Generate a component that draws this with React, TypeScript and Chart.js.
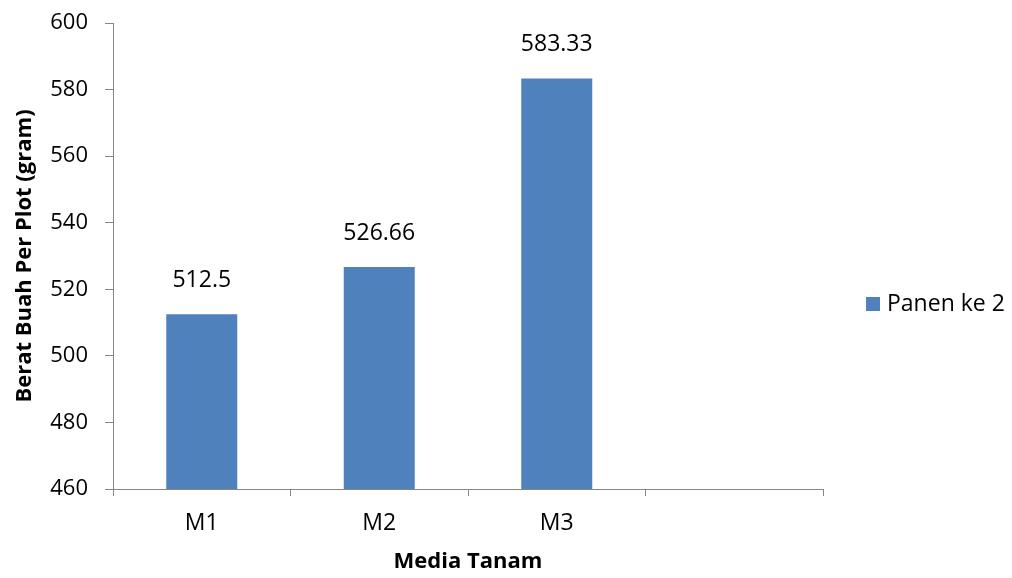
import React, { useEffect, useRef } from "react";
import { Chart, registerables } from "chart.js";

Chart.register(...registerables);

const categories = ["M1", "M2", "M3", ""];
const seriesName = "Panen ke 2";
const seriesValues = [512.5, 526.66, 583.33, null];
const valueLabels = ["512.5", "526.66", "583.33", ""];
const yMin = 460;
const yMax = 600;
const yStep = 20;
const xTitle = "Media Tanam";
const yTitle = "Berat Buah Per Plot (gram)";

const BAR = "#4F81BD";
const AXIS = "#868686";
const FONT = "'Open Sans', 'DejaVu Sans', sans-serif";

const labelsPlugin = {
  id: "valueLabels",
  afterDatasetsDraw(chart: any) {
    const ctx = chart.ctx;
    const meta = chart.getDatasetMeta(0);
    ctx.save();
    ctx.font = `23px ${FONT}`;
    ctx.fillStyle = "#000";
    ctx.textAlign = "center";
    ctx.textBaseline = "middle";
    meta.data.forEach((bar: any, i: number) => {
      const txt = valueLabels[i];
      if (!txt) return;
      ctx.fillText(txt, bar.x, bar.y - 34);
    });
    ctx.restore();
  },
};

const legendPlugin = {
  id: "customLegend",
  afterDraw(chart: any) {
    const ctx = chart.ctx;
    const x = 866;
    const y = 304;
    ctx.save();
    ctx.fillStyle = BAR;
    ctx.fillRect(x, y - 7, 14, 14);
    ctx.font = `23px ${FONT}`;
    ctx.fillStyle = "#000";
    ctx.textAlign = "left";
    ctx.textBaseline = "middle";
    ctx.fillText(seriesName, x + 21, y);
    ctx.restore();
  },
};

export default function App() {
  const ref = useRef<HTMLCanvasElement>(null);
  useEffect(() => {
    if (!ref.current) return;
    const chart = new Chart(ref.current, {
      type: "bar",
      data: {
        labels: categories,
        datasets: [
          {
            label: seriesName,
            data: seriesValues as any,
            backgroundColor: BAR,
            borderWidth: 0,
            categoryPercentage: 1,
            barPercentage: 0.4,
          },
        ],
      },
      options: {
        responsive: false,
        animation: false,
        layout: { padding: { top: 23, right: 189, left: 0, bottom: 0 } },
        plugins: { legend: { display: false }, tooltip: { enabled: false } },
        scales: {
          x: {
            grid: {
              display: true,
              offset: true,
              drawOnChartArea: false,
              drawTicks: true,
              tickLength: 7,
              color: AXIS,
            },
            border: { display: true, color: AXIS, width: 1 },
            ticks: { color: "#000", font: { family: FONT, size: 23 }, padding: 14 },
            title: {
              display: true,
              text: xTitle,
              color: "#000",
              font: { family: FONT, size: 22, weight: "bold" },
              padding: { top: 0, bottom: 3 },
            },
            afterFit(scale: any) {
              scale.height = 89;
              scale.paddingLeft = 0;
              scale.paddingRight = 0;
            },
          },
          y: {
            min: yMin,
            max: yMax,
            grid: {
              display: true,
              drawOnChartArea: false,
              drawTicks: true,
              tickLength: 8,
              color: AXIS,
            },
            border: { display: true, color: AXIS, width: 1 },
            ticks: {
              stepSize: yStep,
              color: "#000",
              font: { family: FONT, size: 22 },
              padding: 17,
            },
            title: {
              display: true,
              text: yTitle,
              color: "#000",
              font: { family: FONT, size: 22, weight: "bold" },
              padding: { top: 12, bottom: 0 },
            },
            afterFit(scale: any) {
              scale.width = 113;
              scale.paddingTop = 0;
              scale.paddingBottom = 0;
            },
          },
        },
      },
      plugins: [labelsPlugin, legendPlugin],
    });
    return () => chart.destroy();
  }, []);
  return (
    <div style={{ position: "absolute", left: 0, top: 0, width: 1012, height: 578, background: "#fff" }}>
      <canvas ref={ref} width={1012} height={578} style={{ width: 1012, height: 578 }} />
    </div>
  );
}
